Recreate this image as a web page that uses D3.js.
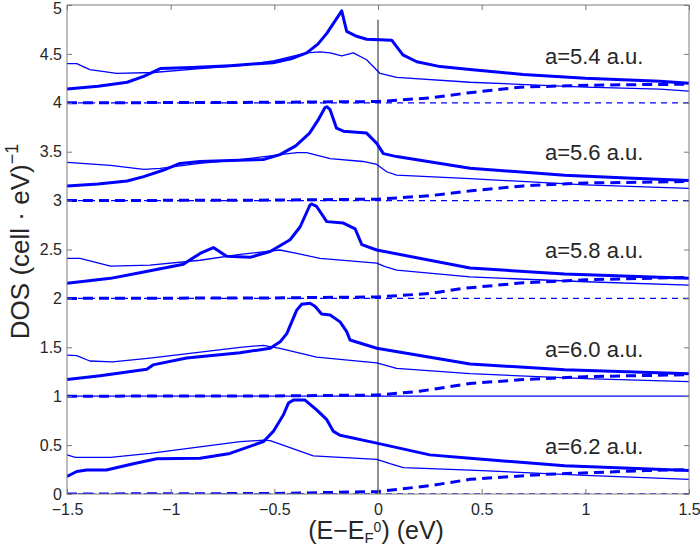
<!DOCTYPE html>
<html><head><meta charset="utf-8">
<script src="https://cdn.jsdelivr.net/npm/d3@7"></script>
<style>body{margin:0;background:#fff} text{font-family:"Liberation Sans",Arial,Helvetica,sans-serif}</style>
</head><body><svg id="c" width="700" height="547"></svg>
<script>
// ---------- data ----------
const xTicks = [-1.5, -1, -0.5, 0, 0.5, 1, 1.5];
const yTicks = [0, 0.5, 1, 1.5, 2, 2.5, 3, 3.5, 4, 4.5, 5];
const panelLabels = ["a=5.4 a.u.", "a=5.6 a.u.", "a=5.8 a.u.", "a=6.0 a.u.", "a=6.2 a.u."];
const labelPosY = [4.40, 3.415, 2.41, 1.40, 0.41];
const labelPosX = 1.28;
const fermiLineTop = 4.85;

// a = 5.4 a.u. (offset 4)
const thick54 = [[-1.5,4.14],[-1.35,4.17],[-1.21,4.21],[-1.13,4.27],[-1.05,4.35],[-0.9,4.36],[-0.714,4.38],[-0.506,4.41],[-0.42,4.45],[-0.344,4.51],[-0.29,4.6],[-0.247,4.71],[-0.175,4.94],[-0.151,4.73],[-0.103,4.68],[-0.055,4.65],[0.066,4.64],[0.12,4.49],[0.187,4.42],[0.3,4.37],[0.444,4.34],[0.7,4.29],[1.0,4.25],[1.36,4.22],[1.5,4.2]];
const thin54 = [[-1.5,4.40],[-1.453,4.40],[-1.39,4.34],[-1.26,4.30],[-1.085,4.31],[-0.858,4.35],[-0.665,4.38],[-0.5,4.43],[-0.344,4.51],[-0.28,4.52],[-0.231,4.51],[-0.175,4.48],[-0.119,4.51],[-0.055,4.44],[0.01,4.30],[0.09,4.26],[0.444,4.21],[1.0,4.16],[1.36,4.14],[1.5,4.12]];
const dashA54 = [[-1.5,4.0],[-0.5,4.005],[0,4.013],[0.25,4.05],[0.43,4.10],[0.685,4.16],[0.926,4.175],[1.2,4.185],[1.5,4.19]];
const dashB54 = [[-1.5,4.0],[1.5,4.0]];

// a = 5.6 a.u. (offset 3)
const thick56 = [[-1.5,3.15],[-1.35,3.17],[-1.21,3.20],[-1.13,3.245],[-1.037,3.31],[-0.955,3.38],[-0.858,3.40],[-0.714,3.41],[-0.553,3.42],[-0.473,3.47],[-0.397,3.56],[-0.33,3.69],[-0.29,3.82],[-0.256,3.95],[-0.247,3.96],[-0.231,3.93],[-0.2,3.74],[-0.167,3.71],[-0.055,3.69],[-0.006,3.585],[0.026,3.48],[0.09,3.45],[0.444,3.33],[0.9,3.26],[1.2,3.23],[1.5,3.205]];
const thin56 = [[-1.5,3.39],[-1.29,3.36],[-1.13,3.32],[-1.05,3.33],[-0.86,3.38],[-0.665,3.42],[-0.392,3.49],[-0.344,3.49],[-0.231,3.43],[-0.072,3.40],[-0.006,3.37],[0.042,3.295],[0.09,3.26],[0.444,3.225],[1.0,3.16],[1.5,3.125]];
const dashA56 = [[-1.5,3.0],[-0.5,3.005],[0,3.015],[0.25,3.05],[0.45,3.10],[0.7,3.15],[1.0,3.18],[1.5,3.195]];
const dashB56 = [[-1.5,3.0],[1.5,3.0]];

// a = 5.8 a.u. (offset 2)
const thick58 = [[-1.5,2.155],[-1.29,2.205],[-1.13,2.27],[-0.939,2.35],[-0.858,2.46],[-0.794,2.52],[-0.73,2.43],[-0.617,2.42],[-0.52,2.48],[-0.424,2.60],[-0.376,2.73],[-0.328,2.955],[-0.32,2.965],[-0.296,2.94],[-0.247,2.785],[-0.167,2.77],[-0.11,2.71],[-0.078,2.55],[-0.006,2.495],[0.444,2.31],[0.9,2.25],[1.5,2.205]];
const thin58 = [[-1.5,2.41],[-1.437,2.41],[-1.29,2.33],[-1.1,2.34],[-0.858,2.39],[-0.665,2.45],[-0.473,2.495],[-0.392,2.46],[-0.28,2.41],[-0.006,2.36],[0.034,2.325],[0.09,2.29],[0.444,2.22],[1.0,2.17],[1.5,2.135]];
const dashA58 = [[-1.5,2.0],[-0.5,2.005],[0,2.015],[0.25,2.05],[0.4,2.10],[0.7,2.16],[1.0,2.19],[1.5,2.215]];
const dashB58 = [[-1.5,2.0],[1.5,2.0]];

// a = 6.0 a.u. (offset 1)
const thick60 = [[-1.5,1.17],[-1.34,1.21],[-1.115,1.275],[-1.085,1.32],[-0.923,1.39],[-0.665,1.445],[-0.52,1.49],[-0.47,1.56],[-0.44,1.64],[-0.392,1.88],[-0.368,1.94],[-0.328,1.95],[-0.304,1.92],[-0.272,1.84],[-0.231,1.83],[-0.183,1.76],[-0.151,1.66],[-0.135,1.575],[-0.006,1.49],[0.444,1.33],[0.9,1.27],[1.5,1.23]];
const thin60 = [[-1.5,1.42],[-1.453,1.415],[-1.39,1.36],[-1.28,1.35],[-1.1,1.39],[-0.665,1.50],[-0.553,1.52],[-0.473,1.49],[-0.296,1.40],[-0.006,1.34],[0.09,1.285],[0.444,1.23],[1.0,1.18],[1.5,1.15]];
const dashA60 = [[-1.5,1.0],[-0.5,1.003],[0,1.012],[0.2,1.05],[0.444,1.13],[0.7,1.17],[1.0,1.20],[1.5,1.22]];
const base60 = [[-1.5,1.0],[1.5,1.0]];

// a = 6.2 a.u. (offset 0)
const thick62 = [[-1.5,0.18],[-1.453,0.23],[-1.405,0.245],[-1.31,0.245],[-1.18,0.31],[-1.067,0.36],[-0.858,0.365],[-0.714,0.415],[-0.553,0.535],[-0.505,0.64],[-0.456,0.81],[-0.432,0.93],[-0.408,0.96],[-0.352,0.96],[-0.296,0.86],[-0.247,0.76],[-0.215,0.64],[-0.183,0.60],[-0.006,0.52],[0.25,0.40],[0.444,0.365],[0.9,0.29],[1.5,0.24]];
const thin62 = [[-1.5,0.40],[-1.46,0.375],[-1.29,0.375],[-1.1,0.415],[-0.665,0.535],[-0.553,0.55],[-0.52,0.545],[-0.312,0.39],[-0.006,0.355],[0.058,0.31],[0.122,0.27],[0.444,0.245],[1.0,0.19],[1.5,0.15]];
const dashA62 = [[-1.5,0.0],[-0.5,0.005],[0,0.025],[0.25,0.085],[0.444,0.15],[0.8,0.2],[1.296,0.24],[1.5,0.25]];
const dashB62 = [[-1.5,0.0],[1.5,0.0]];

// ---------- styles ----------
const styles = {
  thick:     {w: 3,   dash: null},
  thin:      {w: 1.3, dash: null},
  thickDash: {w: 3,   dash: "10,6"},
  thinDash:  {w: 1.3, dash: "6,5"}
};
const series = [
  [dashB54,"thinDash"],[dashA54,"thickDash"],[thin54,"thin"],[thick54,"thick"],
  [dashB56,"thinDash"],[dashA56,"thickDash"],[thin56,"thin"],[thick56,"thick"],
  [dashB58,"thinDash"],[dashA58,"thickDash"],[thin58,"thin"],[thick58,"thick"],
  [base60,"thin"],[dashA60,"thickDash"],[thin60,"thin"],[thick60,"thick"],
  [dashB62,"thinDash"],[dashA62,"thickDash"],[thin62,"thin"],[thick62,"thick"]
];

// ---------- chart ----------
const W = 700, H = 547;
const m = {l: 67, t: 5, r: 11, b: 53};
const svg = d3.select("#c");
const x = d3.scaleLinear().domain([-1.5, 1.5]).range([m.l, W - m.r]);
const y = d3.scaleLinear().domain([0, 5]).range([H - m.b, m.t]);
const blue = "#0000ff";
const axisCol = "#7a7a7a";
const textCol = "#262626";

svg.append("clipPath").attr("id","clip").append("rect")
  .attr("x", m.l).attr("y", m.t).attr("width", W-m.l-m.r).attr("height", H-m.t-m.b);

const plot = svg.append("g").attr("clip-path","url(#clip)");
const line = d3.line().x(d => x(d[0])).y(d => y(d[1]));

// Fermi level line
plot.append("line")
  .attr("x1", x(0)).attr("x2", x(0)).attr("y1", y(0)).attr("y2", y(fermiLineTop))
  .attr("stroke", "#222").attr("stroke-width", 1);

series.forEach(([d, k]) => {
  const s = styles[k];
  plot.append("path").attr("d", line(d)).attr("fill","none")
    .attr("stroke", blue).attr("stroke-width", s.w)
    .attr("stroke-linejoin","round")
    .attr("stroke-dasharray", s.dash);
});

// axes
const fmt = v => (v < 0 ? "\u2212" : "") + String(Math.abs(v));
const gx = svg.append("g").attr("transform", `translate(0,${H-m.b})`)
  .call(d3.axisBottom(x).tickValues(xTicks).tickFormat(fmt).tickSize(-5).tickPadding(10));
const gy = svg.append("g").attr("transform", `translate(${m.l},0)`)
  .call(d3.axisLeft(y).tickValues(yTicks).tickFormat(fmt).tickSize(-5).tickPadding(5));
const gt = svg.append("g").attr("transform", `translate(0,${m.t})`)
  .call(d3.axisTop(x).tickValues(xTicks).tickFormat("").tickSize(-5));
const gr = svg.append("g").attr("transform", `translate(${W-m.r},0)`)
  .call(d3.axisRight(y).tickValues(yTicks).tickFormat("").tickSize(-5));
[gx, gy, gt, gr].forEach(g => {
  g.select(".domain").remove();
  g.selectAll(".tick line").attr("stroke", axisCol);
  g.selectAll(".tick text").attr("fill", textCol).style("font-size","16px")
    .style("font-family", '"Liberation Sans",Arial,sans-serif');
});
// keep the top "5" label inside the picture
gy.selectAll(".tick text").filter(d => d === 5).attr("dy", "0.5em");
svg.append("rect").attr("x", m.l).attr("y", m.t)
  .attr("width", W-m.l-m.r).attr("height", H-m.t-m.b)
  .attr("fill","none").attr("stroke", axisCol).attr("stroke-width", 1);

// panel labels
svg.selectAll("text.pl").data(panelLabels).join("text").attr("class","pl")
  .attr("x", x(labelPosX)).attr("y", (d,i) => y(labelPosY[i]))
  .attr("text-anchor","end").attr("fill", textCol).style("font-size","22px")
  .text(d => d);

// x label: (E − E_F^0) (eV)
const xl = svg.append("text").attr("x", x(0) - 2).attr("y", 539)
  .attr("text-anchor","middle").attr("fill", textCol).style("font-size","25px");
xl.append("tspan").text("(E\u2212E");
xl.append("tspan").attr("dy", 4).style("font-size","15px").text("F");
xl.append("tspan").attr("dx", 0).attr("dy", -11).style("font-size","14px").text("0");
xl.append("tspan").attr("dy", 7).attr("dx", 0).text(") (eV)");

// y label
const yl = svg.append("text")
  .attr("transform", `translate(29,${(m.t + H - m.b)/2 - 8}) rotate(-90)`)
  .attr("text-anchor","middle").attr("fill", textCol).style("font-size","26px");
yl.append("tspan").text("DOS (cell \u00b7 eV)");
yl.append("tspan").attr("dy", -11).style("font-size","18px").text("\u22121");
</script></body></html>
